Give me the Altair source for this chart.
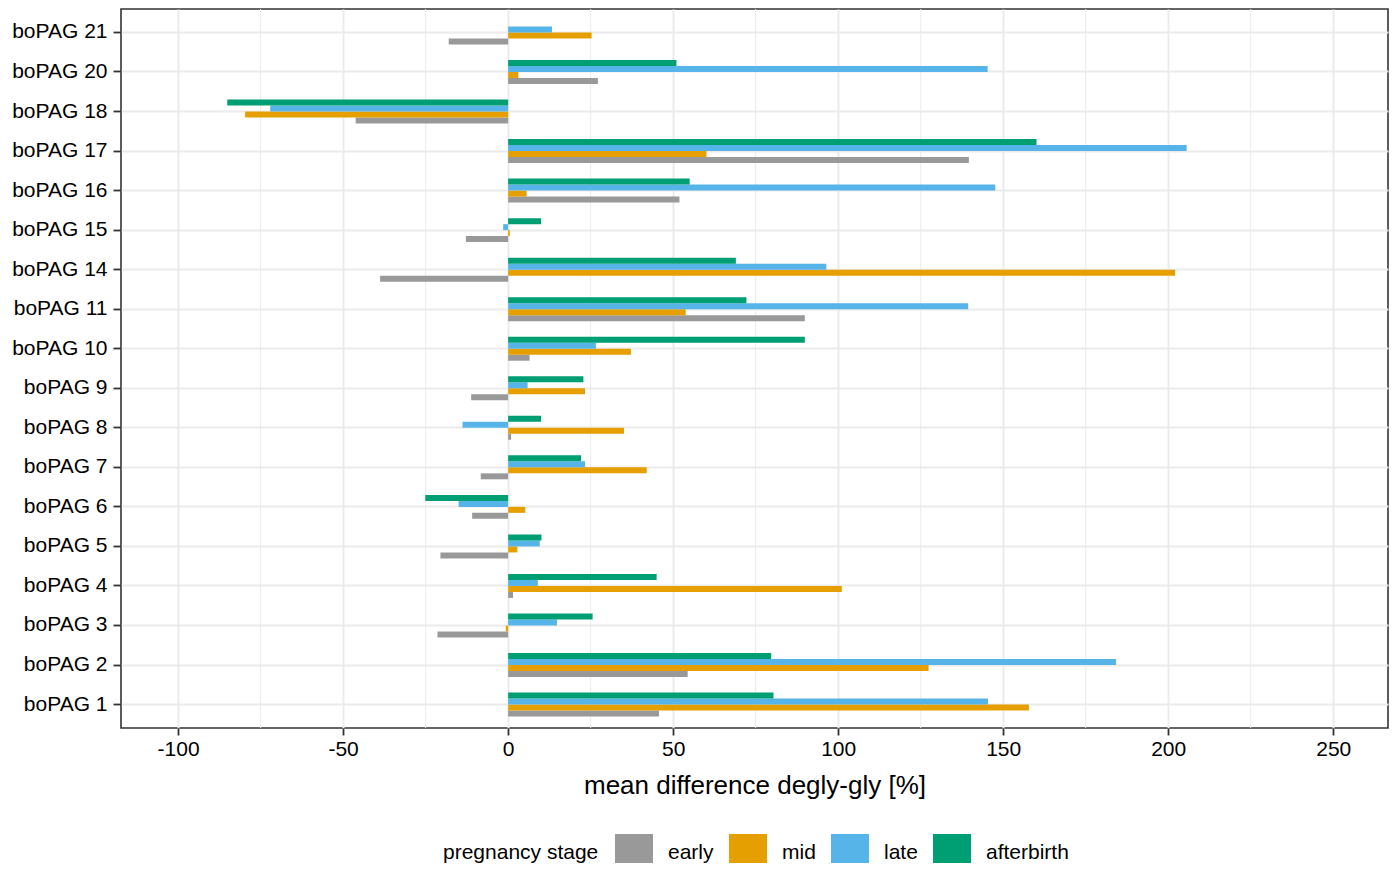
import altair as alt
import pandas as pd

genes = ["boPAG 1", "boPAG 2", "boPAG 3", "boPAG 4", "boPAG 5", "boPAG 6", "boPAG 7",
         "boPAG 8", "boPAG 9", "boPAG 10", "boPAG 11", "boPAG 14", "boPAG 15", "boPAG 16",
         "boPAG 17", "boPAG 18", "boPAG 20", "boPAG 21"]
stages = ["early", "mid", "late", "afterbirth"]
colors = ["#999999", "#E69F00", "#56B4E9", "#009E73"]

early = [45.7, 54.4, -21.4, 1.5, -20.5, -10.9, -8.3, 0.9, -11.2, 6.5, 89.9, -38.8, -12.8, 51.9, 139.6, -46.2, 27.2, -18.0]
mid = [157.8, 127.4, -0.7, 101.1, 2.8, 5.2, 42.0, 35.1, 23.3, 37.2, 53.8, 202.1, 0.5, 5.6, 60.1, -79.7, 3.1, 25.3]
late = [145.4, 184.2, 14.8, 9.0, 9.6, -15.0, 23.3, -13.8, 5.9, 26.6, 139.4, 96.4, -1.5, 147.6, 205.6, -72.1, 145.3, 13.3]
afterbirth = [80.4, 79.7, 25.6, 45.0, 10.1, -25.1, 22.1, 10.0, 22.8, 89.9, 72.2, 69.0, 10.0, 55.0, 160.1, -85.1, 51.0, None]

major_ticks = [-100, -50, 0, 50, 100, 150, 200, 250]
minor_ticks = [-75, -25, 25, 75, 125, 175, 225]

rows = []
for s, vals in zip(stages, [early, mid, late, afterbirth]):
    for g, v in zip(genes, vals):
        if v is not None:
            rows.append({"gene": g, "stage": s, "value": v})
df = pd.DataFrame(rows)
minor_df = pd.DataFrame({"value": minor_ticks})

xdomain = [-117.3, 266.6]
FONT = "Liberation Sans"

xscale = alt.Scale(domain=xdomain, nice=False, zero=False)
xaxis = alt.Axis(values=major_ticks, title="mean difference degly-gly [%]",
                 labelExpr="'' + datum.value",
                 grid=True, gridColor="#EBEBEB", gridWidth=2,
                 domain=False, tickColor="#333333", tickWidth=1.8, tickSize=7,
                 labelFontSize=21, labelColor="black", labelPadding=3,
                 titleFontSize=26, titleFontWeight="normal", titleColor="black",
                 titlePadding=13, labelFont=FONT, titleFont=FONT)

minor = alt.Chart(minor_df).mark_rule(color="#EBEBEB", strokeWidth=1).encode(
    x=alt.X("value:Q", scale=xscale, axis=xaxis)
)

bars = alt.Chart(df).mark_bar().encode(
    x=alt.X("value:Q", scale=xscale, axis=xaxis),
    y=alt.Y("gene:N", sort=list(reversed(genes)),
            scale=alt.Scale(paddingInner=0.394, paddingOuter=0.29),
            axis=alt.Axis(title=None, bandPosition=0.5, grid=True, gridColor="#EBEBEB",
                          gridWidth=2, domain=False, tickColor="#333333", tickWidth=1.8,
                          tickSize=8, labelFontSize=21, labelColor="black",
                          labelPadding=6, labelFont=FONT)),
    yOffset=alt.YOffset("stage:N", sort=["afterbirth", "late", "mid", "early"],
                        scale=alt.Scale(paddingInner=0, paddingOuter=0)),
    color=alt.Color("stage:N",
                    scale=alt.Scale(domain=stages, range=colors),
                    legend=alt.Legend(title="pregnancy stage", orient="none",
                                      legendX=322, legendY=825, direction="horizontal",
                                      columns=4, titleOrient="left",
                                      symbolType="square", symbolSize=1444,
                                      symbolStrokeWidth=0, symbolOpacity=1,
                                      labelFontSize=21, titleFontSize=21,
                                      titleFontWeight="normal", titleColor="black",
                                      labelColor="black", labelOffset=15,
                                      columnPadding=15, titlePadding=16,
                                      labelFont=FONT, titleFont=FONT)),
)

chart = alt.layer(minor, bars).properties(
    width=1267, height=719,
    autosize=alt.AutoSizeParams(type="none"),
    padding={"left": 113, "top": 1, "right": 1, "bottom": 135},
).configure(
    font=FONT,
    view=alt.ViewConfig(stroke="#333333", strokeWidth=1.6),
)

chart.save("out.html", embed_options={"renderer": "svg", "actions": False})
